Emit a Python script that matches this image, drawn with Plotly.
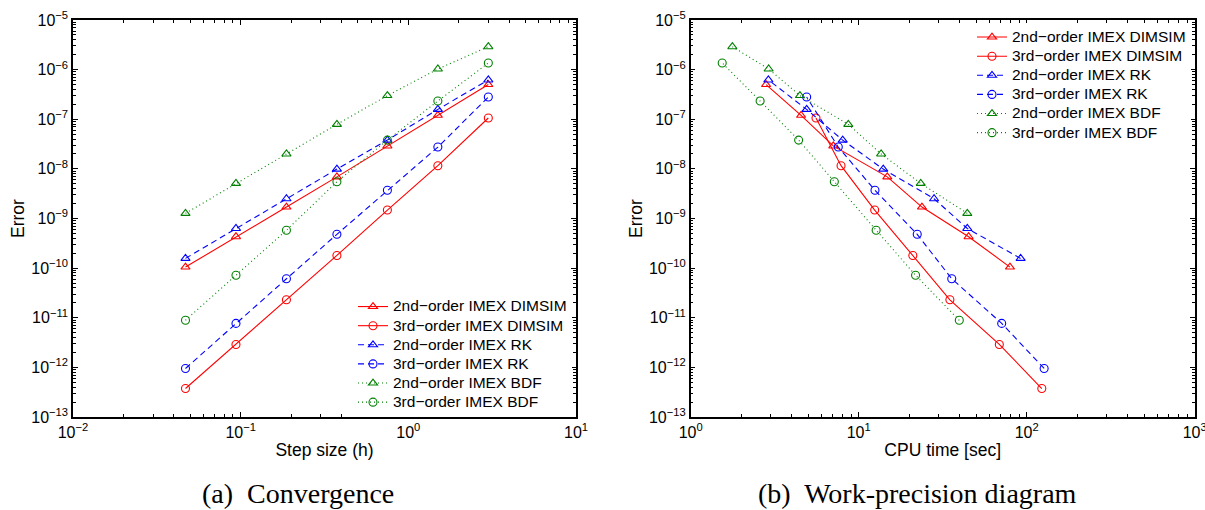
import plotly.graph_objects as go

# Step sizes h and the measured errors for each scheme (ordered by increasing h)
step_size = [0.046875, 0.09375, 0.1875, 0.375, 0.75, 1.5, 3.0]

err_dimsim2 = [1.05e-10, 4.3e-10, 1.7e-9, 6.9e-9, 2.9e-8, 1.2e-7, 5.0e-7]
err_dimsim3 = [3.75e-13, 2.9e-12, 2.3e-11, 1.8e-10, 1.48e-9, 1.16e-8, 1.06e-7]
err_rk2 = [1.57e-10, 6.3e-10, 2.5e-9, 9.9e-9, 3.8e-8, 1.58e-7, 6.2e-7]
err_rk3 = [9.5e-13, 7.7e-12, 6.1e-11, 4.8e-10, 3.7e-9, 2.75e-8, 2.8e-7]
err_bdf2 = [1.27e-9, 5.1e-9, 2.0e-8, 7.9e-8, 3.0e-7, 1.03e-6, 2.9e-6]
err_bdf3 = [8.9e-12, 7.2e-11, 5.8e-10, 5.5e-9, 3.8e-8, 2.33e-7, 1.36e-6]

# CPU time in seconds for the same runs
cpu_dimsim2 = [79.5, 45.1, 23.8, 14.8, 7.06, 4.54, 2.81]
cpu_dimsim3 = [123.0, 68.7, 34.9, 21.0, 12.45, 7.85, 5.57]
cpu_rk2 = [92.0, 44.3, 28.1, 14.0, 8.03, 4.90, 2.90]
cpu_rk3 = [127.0, 71.0, 35.8, 22.3, 12.5, 7.56, 4.9]
cpu_bdf2 = [44.3, 23.4, 13.6, 8.67, 4.47, 2.91, 1.77]
cpu_bdf3 = [39.7, 21.8, 12.7, 7.16, 4.39, 2.59, 1.54]

series_names = [
    "2nd\u2212order IMEX DIMSIM",
    "3rd\u2212order IMEX DIMSIM",
    "2nd\u2212order IMEX RK",
    "3rd\u2212order IMEX RK",
    "2nd\u2212order IMEX BDF",
    "3rd\u2212order IMEX BDF",
]
series_err = [err_dimsim2, err_dimsim3, err_rk2, err_rk3, err_bdf2, err_bdf3]
series_cpu = [cpu_dimsim2, cpu_dimsim3, cpu_rk2, cpu_rk3, cpu_bdf2, cpu_bdf3]

RED, BLUE, GREEN = "#ff0000", "#0000ff", "#008000"
styles = [
    dict(color=RED, dash="solid", symbol="triangle-up-open"),
    dict(color=RED, dash="solid", symbol="circle-open"),
    dict(color=BLUE, dash="6px,4px", symbol="triangle-up-open"),
    dict(color=BLUE, dash="6px,4px", symbol="circle-open"),
    dict(color=GREEN, dash="1px,3px", symbol="triangle-up-open"),
    dict(color=GREEN, dash="1px,3px", symbol="circle-open"),
]

W, H = 1205, 510
FONT = "Liberation Sans, Arial, sans-serif"
LEGEND_TEXT_PX = 15.5   # size of the legend labels
LEGEND_ROW_FONT = 12.4  # sets the legend row pitch (~19 px)

fig = go.Figure()

for xs_list, xref, yref, leg in [
    ([step_size] * 6, "x", "y", "legend"),
    (series_cpu, "x2", "y2", "legend2"),
]:
    for name, xs, ys, st in zip(series_names, xs_list, series_err, styles):
        fig.add_trace(go.Scatter(
            x=xs, y=ys, mode="lines+markers",
            name=f'<span style="font-size:{LEGEND_TEXT_PX}px">{name}</span>',
            xaxis=xref, yaxis=yref, legend=leg,
            line=dict(color=st["color"], width=1.1, dash=st["dash"]),
            marker=dict(symbol=st["symbol"], size=8, color=st["color"],
                        line=dict(color=st["color"], width=1.1)),
        ))


def decade_ticks(lo, hi):
    vals = [10.0 ** k for k in range(lo, hi + 1)]
    text = [f"10<sup>{'\u2212' if k < 0 else ''}{abs(k)}</sup>" for k in range(lo, hi + 1)]
    minor = [m * 10.0 ** k for k in range(lo, hi) for m in range(2, 10)]
    return vals, text, minor


def log_axis(lo, hi, domain, anchor, title, standoff):
    vals, text, minor = decade_ticks(lo, hi)
    return dict(
        type="log", range=[lo, hi], domain=domain, anchor=anchor,
        automargin=False, ticklabeloverflow="allow",
        tickmode="array", tickvals=vals, ticktext=text,
        ticks="inside", ticklen=5, tickwidth=1, tickcolor="black",
        minor=dict(tickmode="array", tickvals=minor, ticks="inside",
                   ticklen=3, tickwidth=1, tickcolor="black"),
        showline=True, linecolor="black", linewidth=1.5, mirror="allticks",
        showgrid=False, zeroline=False,
        tickfont=dict(family=FONT, size=16, color="black"),
        title=dict(text=title, font=dict(family=FONT, size=17.5, color="black"),
                   standoff=standoff),
    )


y_dom = [1 - 417 / H, 1 - 20 / H]
legend_style = dict(xanchor="left", yanchor="top", bgcolor="white", borderwidth=0,
                    font=dict(family=FONT, size=LEGEND_ROW_FONT, color="black"))
fig.update_layout(
    width=W, height=H,
    margin=dict(l=0, r=0, t=0, b=0),
    paper_bgcolor="white", plot_bgcolor="white",
    font=dict(family=FONT, color="black"),
    xaxis=log_axis(-2, 1, [73 / W, 576 / W], "y", "Step size (h)", 4),
    yaxis=log_axis(-13, -5, y_dom, "x", "Error", 2),
    xaxis2=log_axis(0, 3, [690.7 / W, 1194.7 / W], "y2", "CPU time [sec]", 4),
    yaxis2=log_axis(-13, -5, y_dom, "x2", "Error", 2),
    legend=dict(x=353 / W, y=1 - 292 / H, **legend_style),
    legend2=dict(x=972 / W, y=1 - 22.5 / H, **legend_style),
    showlegend=True,
)

# Sub-figure captions
for cx, caption in [(298, "(a)  Convergence"), (917, "(b)  Work-precision diagram")]:
    fig.add_annotation(
        x=cx / W, y=1 - 493 / H, xref="paper", yref="paper",
        text=caption, showarrow=False, xanchor="center", yanchor="middle",
        font=dict(family="Liberation Serif, Times New Roman, serif", size=28, color="black"),
    )

fig.write_html("out.html")
